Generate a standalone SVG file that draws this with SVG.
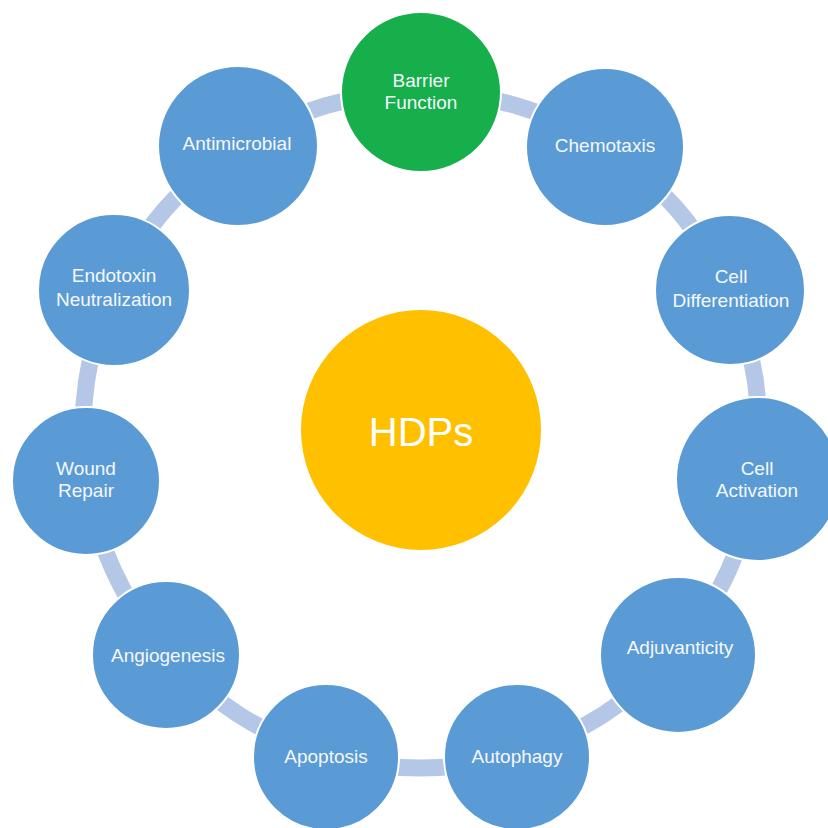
<svg xmlns="http://www.w3.org/2000/svg" width="828" height="828" viewBox="0 0 828 828">
  <style>
    .node { fill: #5B9BD5; stroke: #FFFFFF; stroke-width: 2; }
    .green { fill: #17AF4B; stroke: #FFFFFF; stroke-width: 2; }
    .hub { fill: #FFC000; stroke: #FFFFFF; stroke-width: 2; }
    .lbl { font-family: "Liberation Sans", Arial, sans-serif; font-size: 19px; fill: #F4F8FC; text-anchor: middle; }
    .hubtxt { font-family: "Liberation Sans", Arial, sans-serif; font-size: 40px; fill: #FFFFFF; text-anchor: middle; }
    .link { fill: none; stroke: #B4C7E7; stroke-width: 17; stroke-linecap: butt; }
  </style>
  <rect width="828" height="828" fill="#FFFFFF"/>

  <!-- ring connectors between neighbouring nodes (arcs on the cycle) -->
  <g id="connectors">
    <path class="link" d="M421,92 A338,338 0 0 1 603.7,145.6"/>
    <path class="link" d="M603.7,145.6 A338,338 0 0 1 728.4,289.6"/>
    <path class="link" d="M728.4,289.6 A338,338 0 0 1 755.6,478.1"/>
    <path class="link" d="M755.6,478.1 A338,338 0 0 1 676.4,651.4"/>
    <path class="link" d="M676.4,651.4 A338,338 0 0 1 516.2,754.3"/>
    <path class="link" d="M516.2,754.3 A338,338 0 0 1 325.8,754.3"/>
    <path class="link" d="M325.8,754.3 A338,338 0 0 1 165.6,651.4"/>
    <path class="link" d="M165.6,651.4 A338,338 0 0 1 86.4,478.1"/>
    <path class="link" d="M86.4,478.1 A338,338 0 0 1 113.6,289.6"/>
    <path class="link" d="M113.6,289.6 A338,338 0 0 1 238.3,145.6"/>
    <path class="link" d="M238.3,145.6 A338,338 0 0 1 421,92"/>
  </g>

  <g id="hdps">
    <circle class="hub" cx="421" cy="430" r="121"/>
    <text class="hubtxt" x="421" y="446">HDPs</text>
  </g>

  <g id="barrier-function">
    <circle class="green" cx="421" cy="92" r="80"/>
    <text class="lbl" x="421" y="87">Barrier</text>
    <text class="lbl" x="421" y="109">Function</text>
  </g>

  <g id="chemotaxis">
    <circle class="node" cx="605" cy="147" r="79"/>
    <text class="lbl" x="605" y="152">Chemotaxis</text>
  </g>

  <g id="cell-differentiation">
    <circle class="node" cx="730" cy="290" r="75"/>
    <text class="lbl" x="731" y="283">Cell</text>
    <text class="lbl" x="731" y="307">Differentiation</text>
  </g>

  <g id="cell-activation">
    <circle class="node" cx="758" cy="479" r="82"/>
    <text class="lbl" x="757" y="475">Cell</text>
    <text class="lbl" x="757" y="497">Activation</text>
  </g>

  <g id="adjuvanticity">
    <circle class="node" cx="678" cy="655" r="78"/>
    <text class="lbl" x="680" y="654">Adjuvanticity</text>
  </g>

  <g id="autophagy">
    <circle class="node" cx="517" cy="757" r="73"/>
    <text class="lbl" x="517" y="763">Autophagy</text>
  </g>

  <g id="apoptosis">
    <circle class="node" cx="326" cy="757" r="73"/>
    <text class="lbl" x="326" y="763">Apoptosis</text>
  </g>

  <g id="angiogenesis">
    <circle class="node" cx="166" cy="655" r="74"/>
    <text class="lbl" x="168" y="662">Angiogenesis</text>
  </g>

  <g id="wound-repair">
    <circle class="node" cx="86" cy="481" r="74"/>
    <text class="lbl" x="86" y="475">Wound</text>
    <text class="lbl" x="86" y="497">Repair</text>
  </g>

  <g id="endotoxin-neutralization">
    <circle class="node" cx="114" cy="290" r="76"/>
    <text class="lbl" x="114" y="282">Endotoxin</text>
    <text class="lbl" x="114" y="306">Neutralization</text>
  </g>

  <g id="antimicrobial">
    <circle class="node" cx="238" cy="146" r="80"/>
    <text class="lbl" x="237" y="150">Antimicrobial</text>
  </g>
</svg>
